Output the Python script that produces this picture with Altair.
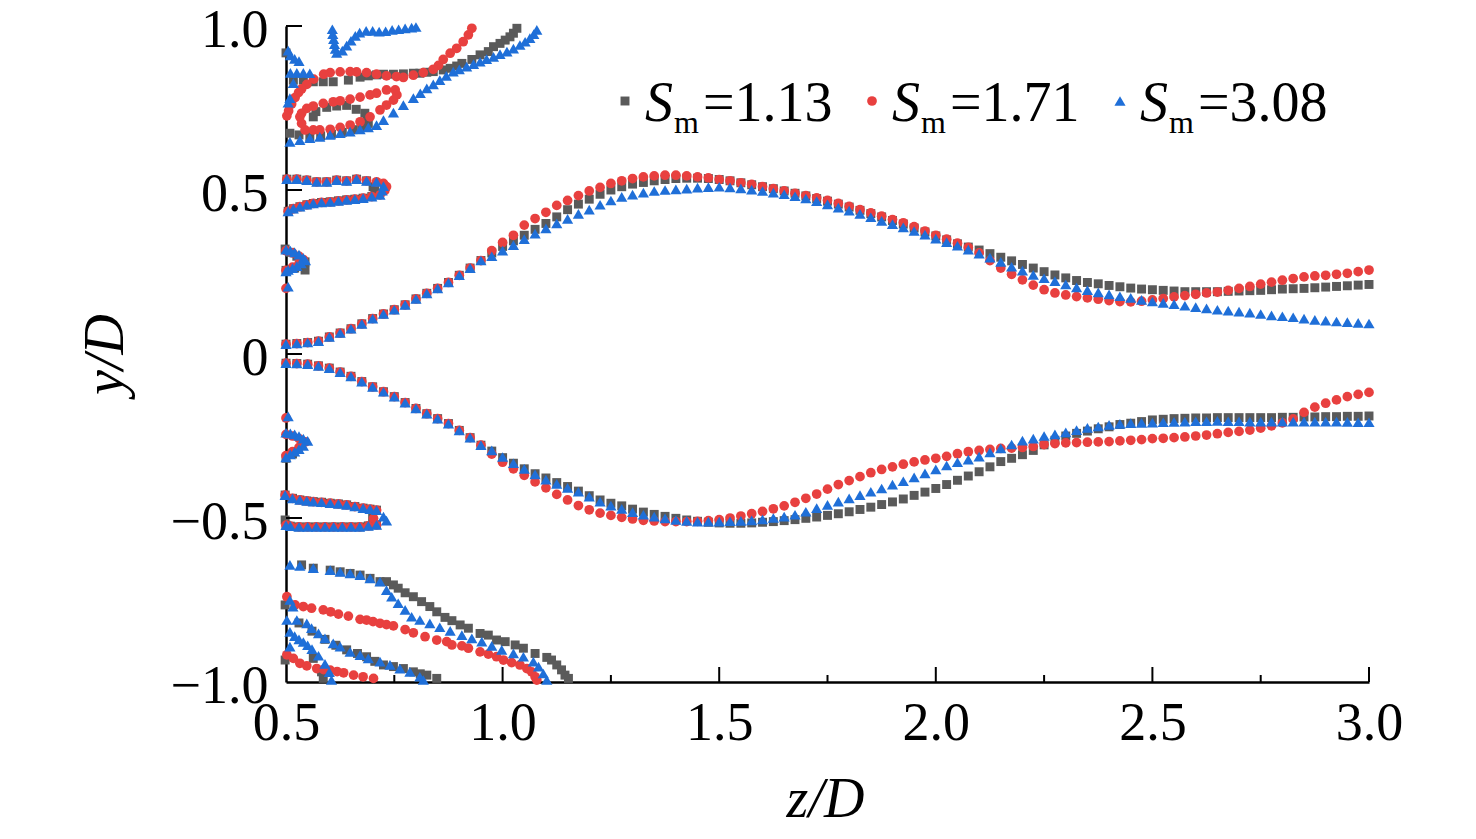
import altair as alt
import pandas as pd

# ---------------- data ----------------
Z_MAIN = [round(0.5 + 0.025 * i, 3) for i in range(101)]

UP_COMMON = [0.03, 0.032, 0.035, 0.039, 0.052, 0.064, 0.077, 0.092, 0.108, 0.122,
             0.135, 0.15, 0.168, 0.185, 0.2, 0.218, 0.24, 0.262, 0.285]
LOW_COMMON = [-0.028, -0.029, -0.031, -0.036, -0.043, -0.055, -0.068, -0.084, -0.1, -0.115,
              -0.13, -0.148, -0.166, -0.182, -0.197, -0.212, -0.233, -0.255, -0.278]

GREY_UP = UP_COMMON + [
    0.308, 0.328, 0.345, 0.362, 0.38, 0.398, 0.418, 0.44, 0.457, 0.472,
    0.487, 0.5, 0.51, 0.518, 0.523, 0.528, 0.532, 0.535, 0.536, 0.536,
    0.535, 0.532, 0.528, 0.522, 0.516, 0.51, 0.504, 0.497, 0.49, 0.482,
    0.474, 0.466, 0.457, 0.448, 0.438, 0.428, 0.418, 0.407, 0.396, 0.384,
    0.372, 0.36, 0.348, 0.336, 0.326, 0.317, 0.306, 0.295, 0.284, 0.273,
    0.262, 0.251, 0.241, 0.232, 0.224, 0.218, 0.214, 0.209, 0.205, 0.201,
    0.198, 0.196, 0.194, 0.192, 0.19, 0.19, 0.19, 0.19, 0.191, 0.192,
    0.193, 0.194, 0.196, 0.198, 0.199, 0.2, 0.202, 0.204, 0.206, 0.208,
    0.21, 0.212]
RED_UP = UP_COMMON + [
    0.315, 0.34, 0.362, 0.393, 0.413, 0.432, 0.453, 0.468, 0.483, 0.497,
    0.508, 0.52, 0.528, 0.535, 0.54, 0.543, 0.545, 0.545, 0.543, 0.54,
    0.537, 0.532, 0.528, 0.522, 0.517, 0.51, 0.504, 0.497, 0.49, 0.483,
    0.476, 0.468, 0.459, 0.45, 0.44, 0.43, 0.42, 0.41, 0.4, 0.388,
    0.375, 0.362, 0.35, 0.338, 0.325, 0.308, 0.285, 0.262, 0.243, 0.226,
    0.21, 0.196, 0.186, 0.18, 0.175, 0.171, 0.167, 0.163, 0.16, 0.159,
    0.161, 0.165, 0.169, 0.174, 0.178, 0.182, 0.186, 0.189, 0.194, 0.2,
    0.206, 0.213, 0.219, 0.225, 0.23, 0.235, 0.238, 0.24, 0.243, 0.246,
    0.251, 0.256]
BLUE_UP = UP_COMMON + [
    0.298, 0.315, 0.332, 0.35, 0.367, 0.383, 0.398, 0.412, 0.427, 0.44,
    0.455, 0.468, 0.479, 0.486, 0.492, 0.497, 0.5, 0.502, 0.504, 0.507,
    0.509, 0.51, 0.508, 0.505, 0.501, 0.497, 0.492, 0.487, 0.481, 0.474,
    0.466, 0.456, 0.446, 0.437, 0.427, 0.417, 0.406, 0.396, 0.386, 0.375,
    0.364, 0.352, 0.341, 0.33, 0.318, 0.306, 0.294, 0.281, 0.266, 0.254,
    0.241, 0.231, 0.222, 0.212, 0.203, 0.195, 0.188, 0.182, 0.176, 0.171,
    0.165, 0.16, 0.156, 0.152, 0.147, 0.143, 0.139, 0.135, 0.132, 0.129,
    0.126, 0.122, 0.118, 0.115, 0.112, 0.108, 0.104, 0.102, 0.099, 0.097,
    0.095, 0.093]

GREY_LOW = LOW_COMMON + [
    -0.296, -0.316, -0.333, -0.35, -0.365, -0.378, -0.392, -0.404, -0.418, -0.432,
    -0.445, -0.455, -0.463, -0.473, -0.482, -0.489, -0.495, -0.501, -0.506, -0.51,
    -0.513, -0.515, -0.516, -0.516, -0.515, -0.513, -0.511, -0.508, -0.505, -0.501,
    -0.497, -0.492, -0.487, -0.481, -0.474, -0.467, -0.459, -0.451, -0.442, -0.431,
    -0.421, -0.41, -0.398, -0.385, -0.372, -0.359, -0.344, -0.328, -0.318, -0.307,
    -0.294, -0.277, -0.263, -0.25, -0.242, -0.235, -0.228, -0.222, -0.215, -0.211,
    -0.206, -0.201, -0.199, -0.197, -0.196, -0.195, -0.195, -0.194, -0.194, -0.194,
    -0.194, -0.194, -0.194, -0.193, -0.193, -0.192, -0.192, -0.191, -0.191, -0.19,
    -0.19, -0.189]
RED_LOW = LOW_COMMON + [
    -0.305, -0.33, -0.35, -0.37, -0.39, -0.408, -0.428, -0.445, -0.462, -0.475,
    -0.485, -0.492, -0.498, -0.503, -0.507, -0.509, -0.511, -0.511, -0.511, -0.51,
    -0.508, -0.505, -0.5, -0.494, -0.487, -0.48, -0.472, -0.463, -0.452, -0.44,
    -0.427, -0.412, -0.398, -0.386, -0.374, -0.362, -0.352, -0.344, -0.336, -0.329,
    -0.323, -0.318, -0.312, -0.304, -0.298, -0.294, -0.291, -0.288, -0.287, -0.285,
    -0.282, -0.276, -0.273, -0.271, -0.27, -0.269, -0.268, -0.267, -0.265, -0.263,
    -0.261, -0.258, -0.257, -0.255, -0.253, -0.25, -0.247, -0.243, -0.239, -0.236,
    -0.232, -0.226, -0.219, -0.21, -0.198, -0.178, -0.162, -0.15, -0.14, -0.13,
    -0.123, -0.117]
BLUE_LOW = LOW_COMMON + [
    -0.294, -0.314, -0.333, -0.35, -0.367, -0.383, -0.396, -0.408, -0.42, -0.435,
    -0.45, -0.462, -0.472, -0.482, -0.49, -0.496, -0.501, -0.506, -0.509, -0.511,
    -0.511, -0.511, -0.51, -0.509, -0.507, -0.504, -0.5, -0.496, -0.49, -0.481,
    -0.47, -0.46, -0.45, -0.44, -0.43, -0.42, -0.41, -0.398, -0.388, -0.376,
    -0.364, -0.352, -0.34, -0.33, -0.322, -0.313, -0.3, -0.288, -0.276, -0.264,
    -0.258, -0.25, -0.245, -0.239, -0.232, -0.225, -0.221, -0.216, -0.213, -0.211,
    -0.21, -0.209, -0.208, -0.207, -0.206, -0.205, -0.205, -0.204, -0.205, -0.205,
    -0.206, -0.206, -0.206, -0.206, -0.206, -0.206, -0.206, -0.206, -0.206, -0.207,
    -0.208, -0.208]

for arr in (GREY_UP, RED_UP, BLUE_UP, GREY_LOW, RED_LOW, BLUE_LOW):
    assert len(arr) == len(Z_MAIN), len(arr)

# near-wall loops (z, y) shared shapes
P5_UPPER = [(0.502, 0.533), (0.525, 0.533), (0.548, 0.53), (0.571, 0.525), (0.594, 0.525),
            (0.617, 0.53), (0.64, 0.528), (0.663, 0.533), (0.686, 0.528), (0.709, 0.525)]
P5_LOWER = [(0.717, 0.485), (0.698, 0.48), (0.678, 0.475), (0.659, 0.472), (0.64, 0.47),
            (0.621, 0.467), (0.602, 0.464), (0.582, 0.462), (0.563, 0.459), (0.548, 0.455),
            (0.532, 0.449), (0.517, 0.443), (0.505, 0.435)]
M5_UPPER = [(0.498, -0.43), (0.515, -0.44), (0.532, -0.445), (0.548, -0.448), (0.563, -0.45),
            (0.582, -0.452), (0.602, -0.455), (0.621, -0.457), (0.64, -0.46), (0.659, -0.465),
            (0.678, -0.47), (0.694, -0.473), (0.709, -0.476)]
M5_LOWER = [(0.709, -0.521), (0.69, -0.524), (0.67, -0.527), (0.65, -0.527), (0.63, -0.527),
            (0.61, -0.527), (0.59, -0.527), (0.57, -0.527), (0.55, -0.527), (0.53, -0.527),
            (0.51, -0.525), (0.5, -0.522)]

# grey fragments
G_TOP = [(1.033, 0.993), (1.025, 0.978), (1.017, 0.967), (1.006, 0.957), (0.994, 0.947),
         (0.979, 0.937), (0.967, 0.922), (0.948, 0.912), (0.929, 0.898), (0.906, 0.886),
         (0.894, 0.878), (0.879, 0.871), (0.863, 0.866), (0.84, 0.861), (0.825, 0.859),
         (0.809, 0.856), (0.794, 0.856), (0.771, 0.854), (0.748, 0.853), (0.725, 0.853),
         (0.709, 0.851), (0.69, 0.848), (0.671, 0.844), (0.644, 0.835), (0.609, 0.83),
         (0.586, 0.83), (0.563, 0.83), (0.54, 0.835), (0.517, 0.835), (0.5, 0.918)]
G_LOOP = [(0.509, 0.673), (0.53, 0.668), (0.555, 0.663), (0.58, 0.665), (0.605, 0.67),
          (0.63, 0.676), (0.655, 0.684), (0.675, 0.692), (0.69, 0.703), (0.688, 0.719),
          (0.682, 0.734), (0.662, 0.746), (0.64, 0.758), (0.617, 0.756), (0.594, 0.752),
          (0.569, 0.739), (0.563, 0.723)]
G_P5_TURN = [(0.701, 0.51), (0.705, 0.5)]
G_GT = [(0.498, 0.32), (0.51, 0.31), (0.525, 0.298), (0.544, 0.281), (0.544, 0.256),
        (0.52, 0.262), (0.5, 0.255)]
G_GT_LOW = [(0.5, -0.318), (0.515, -0.305)]
G_M5_TURN = [(0.498, -0.506), (0.7, -0.5)]
G_BOT1 = [(0.536, -0.643), (0.563, -0.653), (0.602, -0.659), (0.625, -0.664), (0.648, -0.669),
          (0.671, -0.674), (0.694, -0.684), (0.717, -0.694), (0.732, -0.694), (0.748, -0.704),
          (0.759, -0.714), (0.775, -0.728), (0.794, -0.74), (0.813, -0.755), (0.832, -0.77),
          (0.848, -0.786), (0.867, -0.803), (0.883, -0.813), (0.902, -0.826), (0.921, -0.836),
          (0.948, -0.852), (0.967, -0.857), (0.986, -0.872), (1.006, -0.877), (1.029, -0.887),
          (1.048, -0.897), (1.075, -0.913), (1.102, -0.925), (1.113, -0.933), (1.125, -0.948),
          (1.136, -0.963), (1.144, -0.979), (1.152, -0.989)]
G_BOT2 = [(0.53, -0.82), (0.56, -0.845), (0.59, -0.87), (0.615, -0.888), (0.64, -0.902),
          (0.665, -0.913), (0.686, -0.923), (0.705, -0.937), (0.725, -0.948), (0.748, -0.953),
          (0.771, -0.959), (0.794, -0.969), (0.81, -0.975), (0.825, -0.979), (0.848, -0.989)]
G_BOT3 = [(0.498, -0.765), (0.498, -0.933), (0.563, -0.928), (0.582, -0.969), (0.586, -0.989)]

# red fragments
R_TOP = [(0.929, 0.993), (0.921, 0.973), (0.909, 0.952), (0.894, 0.932), (0.879, 0.917),
         (0.863, 0.898), (0.852, 0.88), (0.84, 0.868), (0.817, 0.858), (0.794, 0.85),
         (0.771, 0.843), (0.755, 0.846), (0.732, 0.848), (0.709, 0.853), (0.686, 0.858),
         (0.663, 0.86), (0.648, 0.861), (0.625, 0.86), (0.602, 0.858), (0.587, 0.853),
         (0.564, 0.838), (0.548, 0.822), (0.536, 0.808), (0.529, 0.797), (0.521, 0.782),
         (0.513, 0.762), (0.506, 0.741), (0.502, 0.726)]
R_LOOP = [(0.532, 0.723), (0.536, 0.703), (0.544, 0.683), (0.563, 0.683), (0.578, 0.683),
          (0.602, 0.685), (0.625, 0.691), (0.648, 0.698), (0.671, 0.708), (0.694, 0.723),
          (0.717, 0.744), (0.732, 0.759), (0.748, 0.774), (0.756, 0.79), (0.752, 0.805),
          (0.732, 0.805), (0.709, 0.795), (0.694, 0.79), (0.671, 0.783), (0.648, 0.777),
          (0.625, 0.772), (0.609, 0.769), (0.586, 0.764), (0.563, 0.756), (0.548, 0.749),
          (0.536, 0.734)]
R_P5_TURN = [(0.725, 0.52), (0.732, 0.51), (0.728, 0.498)]
R_GT = [(0.5, 0.315), (0.515, 0.308), (0.53, 0.298), (0.54, 0.288), (0.53, 0.275),
        (0.515, 0.265), (0.5, 0.255), (0.5, 0.2)]
R_GT_LOW = [(0.5, -0.245), (0.515, -0.25), (0.53, -0.258), (0.545, -0.268), (0.53, -0.285),
            (0.515, -0.298), (0.5, -0.31), (0.5, -0.195)]
R_M5_TURN = [(0.702, -0.501)]
R_BOT1 = [(0.502, -0.74), (0.521, -0.765), (0.54, -0.77), (0.559, -0.775), (0.586, -0.78),
          (0.603, -0.786), (0.621, -0.793), (0.644, -0.799), (0.671, -0.809), (0.686, -0.811),
          (0.701, -0.816), (0.717, -0.821), (0.732, -0.825), (0.748, -0.829), (0.775, -0.84),
          (0.794, -0.85), (0.821, -0.862), (0.848, -0.872), (0.871, -0.877), (0.883, -0.887),
          (0.906, -0.89), (0.921, -0.897), (0.948, -0.908), (0.967, -0.915), (0.986, -0.923),
          (1.002, -0.933), (1.021, -0.941), (1.04, -0.948), (1.056, -0.959), (1.067, -0.969),
          (1.075, -0.984), (1.079, -0.994)]
R_BOT2 = [(0.502, -0.917), (0.517, -0.928), (0.532, -0.943), (0.548, -0.951), (0.571, -0.959),
          (0.587, -0.962), (0.602, -0.964), (0.618, -0.968), (0.633, -0.972), (0.656, -0.979),
          (0.678, -0.984), (0.702, -0.989)]

# blue fragments
B_TOPLEFT = [(0.505, 0.925), (0.51, 0.91), (0.52, 0.9), (0.53, 0.893), (0.51, 0.857),
             (0.525, 0.857), (0.54, 0.857), (0.555, 0.856), (0.517, 0.826), (0.509, 0.78),
             (0.505, 0.766)]
B_V = [(0.607, 0.99), (0.608, 0.975), (0.61, 0.96), (0.612, 0.945), (0.614, 0.93),
       (0.617, 0.918), (0.63, 0.925), (0.64, 0.94), (0.65, 0.955), (0.66, 0.97),
       (0.67, 0.98), (0.685, 0.985), (0.7, 0.985), (0.715, 0.983), (0.73, 0.984),
       (0.745, 0.988), (0.76, 0.99), (0.775, 0.993), (0.79, 0.995), (0.8, 0.997)]
B_CURVE = [(0.509, 0.647), (0.532, 0.652), (0.555, 0.658), (0.578, 0.662), (0.602, 0.668),
           (0.625, 0.673), (0.648, 0.678), (0.671, 0.685), (0.69, 0.691), (0.709, 0.698),
           (0.725, 0.713), (0.748, 0.736), (0.771, 0.759), (0.794, 0.78), (0.81, 0.795),
           (0.825, 0.81), (0.84, 0.822), (0.855, 0.835), (0.87, 0.848), (0.886, 0.861),
           (0.9, 0.868), (0.917, 0.876), (0.933, 0.884), (0.948, 0.891), (0.963, 0.899),
           (0.979, 0.906), (0.994, 0.914), (1.01, 0.922), (1.025, 0.931), (1.04, 0.942),
           (1.052, 0.952), (1.063, 0.963), (1.072, 0.975), (1.079, 0.988)]
B_P5_TURN = [(0.725, 0.512), (0.722, 0.498)]
B_GT = [(0.5, 0.318), (0.51, 0.315), (0.52, 0.31), (0.53, 0.303), (0.54, 0.293),
        (0.545, 0.285), (0.535, 0.276), (0.525, 0.268), (0.515, 0.262), (0.505, 0.256),
        (0.5, 0.252), (0.505, 0.205)]
B_GT_LOW = [(0.5, -0.24), (0.51, -0.242), (0.52, -0.245), (0.53, -0.25), (0.54, -0.258),
            (0.55, -0.265), (0.54, -0.28), (0.53, -0.29), (0.52, -0.298), (0.51, -0.306),
            (0.5, -0.315), (0.505, -0.19)]
B_M5_TURN = [(0.725, -0.496), (0.732, -0.508)]
B_BOT1 = [(0.509, -0.643), (0.532, -0.646), (0.563, -0.653), (0.602, -0.659), (0.625, -0.664),
          (0.648, -0.669), (0.671, -0.674), (0.694, -0.684), (0.717, -0.694), (0.732, -0.72),
          (0.744, -0.74), (0.759, -0.76), (0.775, -0.78), (0.79, -0.801), (0.809, -0.811),
          (0.832, -0.821), (0.855, -0.833), (0.879, -0.844), (0.906, -0.857), (0.929, -0.867),
          (0.952, -0.877), (0.975, -0.89), (0.998, -0.902), (1.025, -0.913), (1.048, -0.923),
          (1.071, -0.938), (1.083, -0.953), (1.094, -0.974), (1.102, -0.994)]
B_BOT2 = [(0.502, -0.811), (0.525, -0.811), (0.548, -0.821), (0.559, -0.836), (0.575, -0.852),
          (0.59, -0.867), (0.609, -0.882), (0.625, -0.892), (0.648, -0.908), (0.671, -0.918),
          (0.69, -0.928), (0.717, -0.938), (0.74, -0.948), (0.763, -0.959), (0.786, -0.969),
          (0.809, -0.984), (0.817, -0.994)]
B_BOT3 = [(0.509, -0.847), (0.52, -0.86), (0.53, -0.87), (0.54, -0.878), (0.55, -0.888),
          (0.56, -0.9), (0.575, -0.92), (0.59, -0.945), (0.6, -0.97), (0.605, -0.994),
          (0.509, -0.892), (0.509, -0.75), (0.516, -0.77)]

SERIES_LABELS = ["=1.13", "=1.71", "=3.08"]
X_MAJOR = [1.0, 1.5, 2.0, 2.5, 3.0]
X_MINOR = [0.75, 1.25, 1.75, 2.25, 2.75]
Y_TICKS = [1.0, 0.5, 0.0, -0.5]
X_LABELS = [0.5, 1.0, 1.5, 2.0, 2.5, 3.0]
Y_LABELS = [-1.0, -0.5, 0.0, 0.5, 1.0]

# ---------------- styling ----------------
FONT = "Liberation Serif, Times New Roman, serif"
GREY, RED, BLUE = "#5a5a5a", "#e8403f", "#1f6fd8"
SQ, CI, TR = 80, 95, 125
W, H = 1083, 656


def frame(main_up, main_low, frags):
    rows = [{"z": z, "y": y} for z, y in zip(Z_MAIN, main_up)]
    rows += [{"z": z, "y": y} for z, y in zip(Z_MAIN, main_low)]
    for seg in frags:
        rows += [{"z": z, "y": y} for z, y in seg]
    return pd.DataFrame(rows)


df_grey = frame(GREY_UP, GREY_LOW, [G_TOP, G_LOOP, P5_UPPER[:-1], G_P5_TURN, P5_LOWER[1:],
                                    G_GT, G_GT_LOW, M5_UPPER, G_M5_TURN, M5_LOWER,
                                    G_BOT1, G_BOT2, G_BOT3])
df_red = frame(RED_UP, RED_LOW, [R_TOP, R_LOOP, P5_UPPER, R_P5_TURN, P5_LOWER,
                                 R_GT, R_GT_LOW, M5_UPPER, R_M5_TURN, M5_LOWER,
                                 R_BOT1, R_BOT2])
df_blue = frame(BLUE_UP, BLUE_LOW, [B_TOPLEFT, B_V, B_CURVE, P5_UPPER, B_P5_TURN, P5_LOWER,
                                    B_GT, B_GT_LOW, M5_UPPER, B_M5_TURN, M5_LOWER,
                                    B_BOT1, B_BOT2, B_BOT3])

xs = alt.Scale(domain=[0.5, 3.0], nice=False, zero=False)
ys = alt.Scale(domain=[-1.0, 1.0], nice=False, zero=False)

X_AXIS = alt.Axis(values=X_LABELS, format=".1f", ticks=False, grid=False,
                  domainColor="black", domainWidth=2.5,
                  labelFont=FONT, labelFontSize=54, labelColor="black", labelPadding=14,
                  labelFlush=False,
                  title="z/D", titleFont=FONT, titleFontSize=56, titleFontStyle="italic",
                  titleFontWeight="normal", titleColor="black",
                  titleX=539, titleY=134, titleBaseline="alphabetic", titleAlign="center")
Y_AXIS = alt.Axis(values=Y_LABELS, ticks=False, grid=False,
                  labelExpr="datum.value == 0 ? '0' : format(datum.value, '.1f')",
                  domainColor="black", domainWidth=2.5,
                  labelFont=FONT, labelFontSize=54, labelColor="black", labelPadding=18,
                  labelFlush=False, labelOffset=4,
                  title="y/D", titleFont=FONT, titleFontSize=56, titleFontStyle="italic",
                  titleFontWeight="normal", titleColor="black", titleAngle=270,
                  titleX=-164, titleY=328, titleBaseline="alphabetic", titleAlign="center")


def pts(df, shape, color, size):
    return alt.Chart(df).mark_point(shape=shape, filled=True, color=color, size=size,
                                    opacity=1, strokeWidth=0).encode(
        x=alt.X("z:Q", scale=xs, axis=X_AXIS),
        y=alt.Y("y:Q", scale=ys, axis=Y_AXIS),
    )


grey_layer = pts(df_grey, "square", GREY, SQ)
red_layer = pts(df_red, "circle", RED, CI)
blue_layer = pts(df_blue, "triangle-up", BLUE, TR)

xmaj = alt.Chart(pd.DataFrame({"z": X_MAJOR})).mark_rule(color="black", strokeWidth=2).encode(
    x=alt.X("z:Q", scale=xs, axis=X_AXIS), y=alt.value(H), y2=alt.value(H - 15))
xmin = alt.Chart(pd.DataFrame({"z": X_MINOR})).mark_rule(color="black", strokeWidth=2).encode(
    x=alt.X("z:Q", scale=xs, axis=X_AXIS), y=alt.value(H), y2=alt.value(H - 7))
ytk = alt.Chart(pd.DataFrame({"y": Y_TICKS})).mark_rule(color="black", strokeWidth=2).encode(
    y=alt.Y("y:Q", scale=ys, axis=Y_AXIS), x=alt.value(0), x2=alt.value(16))

# legend (custom, for the subscript)
one = pd.DataFrame({"k": [0]})
legend_layers = []
LEG_SYMBOLS = [("square", GREY, SQ), ("circle", RED, CI), ("triangle-up", BLUE, TR)]
LEG_X0 = [339, 586, 834]
for (shape, color, size), x0, lab in zip(LEG_SYMBOLS, LEG_X0, SERIES_LABELS):
    legend_layers.append(alt.Chart(one).mark_point(shape=shape, filled=True, color=color,
                                                   size=size, opacity=1, strokeWidth=0).encode(
        x=alt.value(x0), y=alt.value(75)))
    legend_layers.append(alt.Chart(one).mark_text(text="S", font=FONT, fontSize=56,
                                                  fontStyle="italic", align="left",
                                                  baseline="alphabetic", color="black").encode(
        x=alt.value(x0 + 20), y=alt.value(95)))
    legend_layers.append(alt.Chart(one).mark_text(text="m", font=FONT, fontSize=32,
                                                  align="left", baseline="alphabetic",
                                                  color="black").encode(
        x=alt.value(x0 + 49), y=alt.value(107)))
    legend_layers.append(alt.Chart(one).mark_text(text=lab, font=FONT, fontSize=56,
                                                  align="left", baseline="alphabetic",
                                                  color="black").encode(
        x=alt.value(x0 + 78), y=alt.value(95)))

chart = alt.layer(grey_layer, red_layer, blue_layer, xmaj, xmin, ytk, *legend_layers).properties(
    width=W, height=H,
    autosize=alt.AutoSizeParams(type="none"),
    padding={"left": 278, "top": 18, "right": 90, "bottom": 148},
).configure_view(stroke=None)

chart.save("out.html", embed_options={"renderer": "svg", "actions": False})
